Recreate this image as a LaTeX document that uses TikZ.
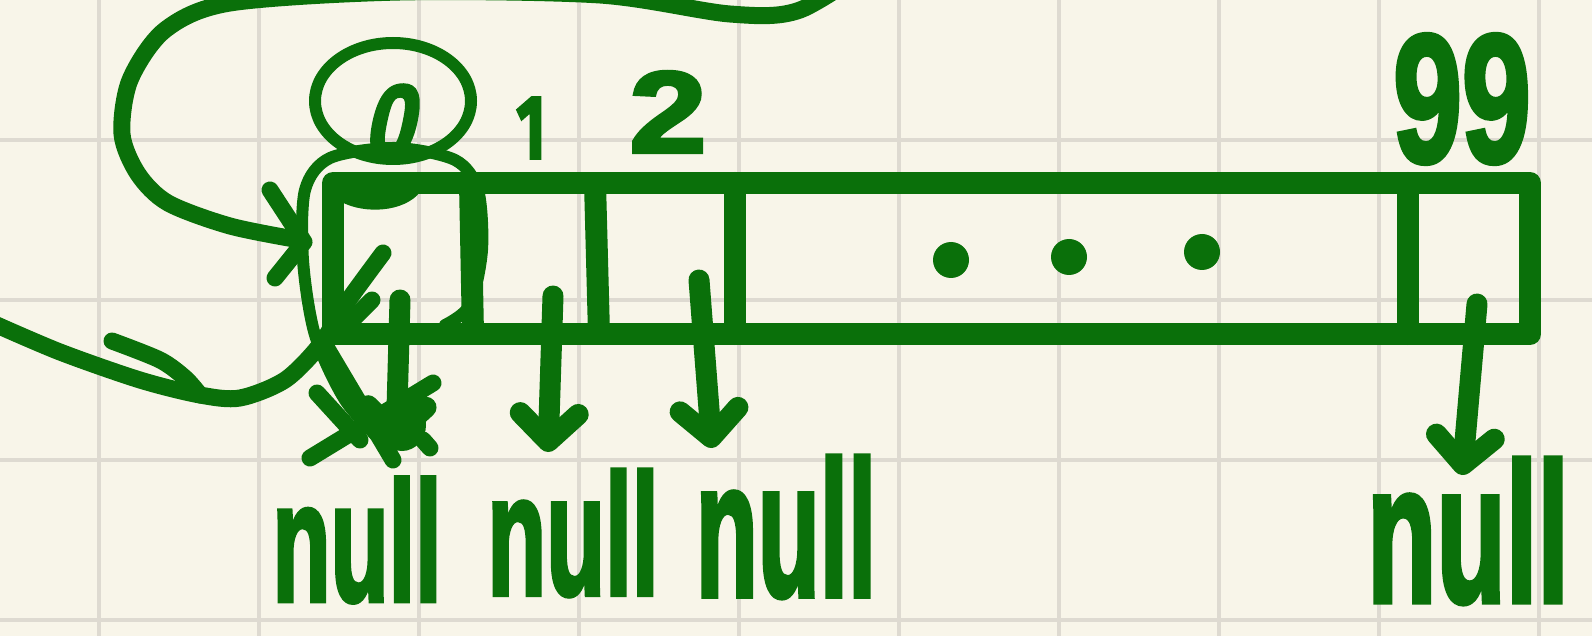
\documentclass[tikz,border=0pt]{standalone}
\usepackage{fontspec}
\newfontfamily\hfont{Liberation Sans}[BoldFeatures={FakeBold=3}]
\newfontfamily\ofont{Fira Sans}[BoldFeatures={FakeBold=3}]
\usetikzlibrary{arrows.meta}
\definecolor{ink}{RGB}{10,112,10}
\definecolor{paper}{RGB}{248,245,233}
\definecolor{gridc}{RGB}{222,218,209}
\begin{document}
\begin{tikzpicture}[x=1pt,y=-1pt,
  gridline/.style={draw=gridc,line width=4pt},
  pen/.style={draw=ink,line cap=round,line join=round},
  boxline/.style={pen,line width=22pt},
  heavypen/.style={pen,line width=17pt},
  lightpen/.style={pen,line width=12pt},
  arr/.style={pen,line width=21pt,-{Straight Barb[length=28pt,width=58pt,round]}},
  lbl/.style={text=ink,inner sep=0pt,font=\hfont\bfseries\fontsize{#1}{#1}\selectfont},
  onelbl/.style={text=ink,inner sep=0pt,font=\ofont\bfseries\fontsize{#1}{#1}\selectfont}]
\path[use as bounding box,fill=paper] (0,0) rectangle (1592,636);
\clip (0,0) rectangle (1592,636);
% grid
\foreach \x in {98.5,258.5,418.5,578.5,738.5,898.5,1058.5,1218.5,1378.5,1538.5}
  \draw[gridline] (\x,0) -- (\x,636);
\foreach \y in {140,300,460,620}
  \draw[gridline] (0,\y) -- (1592,\y);
% array box
\coordinate (tl) at (333,183);
\coordinate (br) at (1530,334);
\draw[boxline] (tl) rectangle (br);
\draw[boxline] (470,183) -- (473,334);
\draw[boxline] (595,183) -- (599,334);
\draw[boxline] (735,183) -- (735,334);
\draw[boxline] (1408,183) -- (1408,334);
\draw[boxline] (343,190) .. controls (360,202) and (395,202) .. (410,187);
% dots
\fill[ink] (951,260) circle[radius=18];
\fill[ink] (1069,257) circle[radius=18];
\fill[ink] (1202,252) circle[radius=18];
% index labels
\node[lbl=105,xscale=0.85,xslant=0.25] (d0) at (395,122) {0};
\node[onelbl=90,xscale=0.7] (d1) at (531,128) {1};
\node[lbl=116,xscale=1.2] (d2) at (668,112) {2};
\node[lbl=182,xscale=0.68] (d99) at (1462,99) {99};
% circle around 0 and loop around cell 0
\draw[lightpen] (393,101) ellipse[x radius=78,y radius=58];
\draw[lightpen] plot[smooth] coordinates {(445,325) (470,305) (482,250) (478,190) (455,160) (395,148) (330,158) (305,190) (303,260) (315,335) (345,400) (385,445)};
% big curve on the left with arrow into cell 0
\draw[heavypen] plot[smooth] coordinates {(880,-40) (800,10) (730,14) (600,-5) (400,-8) (230,3) (165,30) (130,80) (122,134) (138,174) (168,203) (230,226) (300,240)};
\draw[heavypen] (270,190) -- (304,242) -- (275,278);
% lower swoosh
\draw[heavypen] plot[smooth] coordinates {(-10,322) (60,352) (140,380) (200,395) (240,398) (285,380) (320,345) (345,305) (383,253)};
\draw[heavypen] plot[smooth] coordinates {(112,341) (160,360) (185,378) (200,395)};
\draw[heavypen] (350,322) -- (372,300);
% crossing strokes at null 0
\draw[heavypen] (317,393) -- (360,440);
\draw[heavypen] (323,342) -- (393,460);
\draw[heavypen] (310,458) -- (433,383);
\fill[ink] (402,425) ellipse[x radius=24,y radius=26];
\draw[heavypen] (423,440) -- (430,448);
% arrows to null
\coordinate (a0s) at (400,300); \coordinate (a0e) at (396,445);
\coordinate (a1s) at (553,296); \coordinate (a1e) at (548,452);
\coordinate (a2s) at (699,280); \coordinate (a2e) at (712,448);
\coordinate (a3s) at (1477,304); \coordinate (a3e) at (1462,475);
\draw[arr] (a0s) -- (a0e);
\draw[arr] (a1s) -- (a1e);
\draw[arr] (a2s) -- (a2e);
\draw[arr] (a3s) -- (a3e);
% null labels
\node[lbl=170,xscale=0.56] (n0) at (357,540) {null};
\node[lbl=172,xscale=0.56] (n1) at (573,533) {null};
\node[lbl=172,xscale=0.59,yscale=1.12] (n2) at (786,527) {null};
\node[lbl=172,xscale=0.66,yscale=1.15] (n3) at (1468,531) {null};
\end{tikzpicture}
\end{document}
